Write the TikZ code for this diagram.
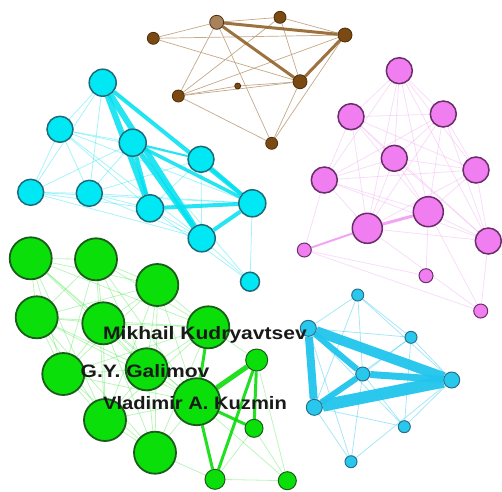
\documentclass[tikz,border=0pt]{standalone}
\usepackage{fontspec}
\newfontfamily\labfont{Liberation Sans}
\usetikzlibrary{backgrounds}
\definecolor{brfill}{HTML}{7A4A12}
\definecolor{brline}{HTML}{4E2E0A}
\definecolor{brlight}{HTML}{A8825A}
\definecolor{bredge}{HTML}{8B5A1E}
\definecolor{brthin}{HTML}{C4A888}
\definecolor{cyfill}{HTML}{00E8F4}
\definecolor{cyline}{HTML}{1E6A78}
\definecolor{cyedge}{HTML}{00E0F0}
\definecolor{pkfill}{HTML}{F07EF0}
\definecolor{pkline}{HTML}{6A2C6A}
\definecolor{pkedge}{HTML}{F0A8F0}
\definecolor{gnfill}{HTML}{0ADF0A}
\definecolor{gnline}{HTML}{1A5C1A}
\definecolor{gnedge}{HTML}{0ADC0A}
\definecolor{blfill}{HTML}{28C8EC}
\definecolor{blline}{HTML}{2A6E8C}
\definecolor{bledge}{HTML}{20C4EC}
\tikzset{
  vtx/.style={circle,inner sep=0pt,line width=1.5pt},
  brn/.style={vtx,fill=brfill,draw=brline,line width=0.8pt},
  cyn/.style={vtx,fill=cyfill,draw=cyline},
  pkn/.style={vtx,fill=pkfill,draw=pkline},
  gnn/.style={vtx,fill=gnfill,draw=gnline,line width=1.8pt},
  bln/.style={vtx,fill=blfill,draw=blline,line width=1pt},
  brthinE/.style={draw=brthin,line width=0.7pt},
  brthickE/.style={draw=bredge,line width=3pt,opacity=0.85},
  cythinE/.style={draw=cyedge,line width=0.8pt,opacity=0.35},
  cythickE/.style={draw=cyedge,line width=#1,opacity=0.85},
  pkthinE/.style={draw=pkedge,line width=0.8pt,opacity=0.4},
  pkthickE/.style={draw=pkfill,line width=#1,opacity=0.7},
  gnthinE/.style={draw=gnedge,line width=0.8pt,opacity=0.28},
  gnthickE/.style={draw=gnedge,line width=#1,opacity=0.9},
  blthinE/.style={draw=bledge,line width=0.8pt,opacity=0.4},
  blthickE/.style={draw=bledge,line width=#1,opacity=0.95},
  lab/.style={inner sep=0pt,text=black!90,font=\labfont\bfseries\fontsize{18}{20}\selectfont}
}
\begin{document}
\begin{tikzpicture}[x=1pt,y=-1pt]
\useasboundingbox (0,0) rectangle (502,491);
% brown cluster
\node[brn,fill=brlight,minimum size=14pt] (b1) at (216.7,22.3) {};
\node[brn,minimum size=12pt] (b2) at (280,17.3) {};
\node[brn,minimum size=14pt] (b3) at (345,35) {};
\node[brn,minimum size=12pt] (b4) at (153.3,38.3) {};
\node[brn,minimum size=14pt] (b5) at (300,81.7) {};
\node[brn,minimum size=6pt] (b6) at (237.7,86) {};
\node[brn,minimum size=12pt] (b7) at (178.3,96) {};
\node[brn,minimum size=12pt] (b8) at (271.7,143.3) {};
% cyan cluster
\node[cyn,minimum size=27pt] (c1) at (102.7,82.7) {};
\node[cyn,minimum size=26pt] (c2) at (60,129.3) {};
\node[cyn,minimum size=27pt] (c3) at (132.7,142.7) {};
\node[cyn,minimum size=26pt] (c4) at (201,159.3) {};
\node[cyn,minimum size=26pt] (c5) at (30.7,192.3) {};
\node[cyn,minimum size=26pt] (c6) at (89.3,193.3) {};
\node[cyn,minimum size=27pt] (c7) at (150,208.3) {};
\node[cyn,minimum size=27pt] (c8) at (252.3,203.3) {};
\node[cyn,minimum size=27pt] (c9) at (201.7,238.3) {};
\node[cyn,minimum size=19pt] (c10) at (250,281.7) {};
% pink cluster
\node[pkn,minimum size=26pt] (p1) at (399.3,70.7) {};
\node[pkn,minimum size=26pt] (p2) at (351,116.7) {};
\node[pkn,minimum size=26pt] (p3) at (443.3,114) {};
\node[pkn,minimum size=26pt] (p4) at (394.3,158.3) {};
\node[pkn,minimum size=26pt] (p5) at (324.3,180) {};
\node[pkn,minimum size=26pt] (p6) at (476,170) {};
\node[pkn,minimum size=30pt] (p7) at (428.3,211.7) {};
\node[pkn,minimum size=30pt] (p8) at (367.3,228.3) {};
\node[pkn,minimum size=26pt] (p9) at (488.3,241) {};
\node[pkn,minimum size=14pt,line width=1pt] (p10) at (304.3,250) {};
\node[pkn,minimum size=14pt,line width=1pt] (p11) at (426,275.7) {};
\node[pkn,minimum size=14pt,line width=1pt] (p12) at (480.7,311) {};
% green cluster
\node[gnn,minimum size=42pt] (g1) at (30.7,258.3) {};
\node[gnn,minimum size=42pt] (g2) at (96,259.3) {};
\node[gnn,minimum size=42pt] (g3) at (157.3,285) {};
\node[gnn,minimum size=42pt] (g4) at (36.7,317.3) {};
\node[gnn,minimum size=42pt] (g5) at (103.3,323.3) {};
\node[gnn,minimum size=42pt] (g6) at (208.3,327.3) {};
\node[gnn,minimum size=42pt] (g7) at (63.3,374) {};
\node[gnn,minimum size=42pt] (g8) at (146.7,369.3) {};
\node[gnn,minimum size=22pt,line width=1pt] (g9) at (256.7,360) {};
\node[gnn,minimum size=47pt] (g10) at (196.7,401.7) {};
\node[gnn,minimum size=42pt] (g11) at (105,420) {};
\node[gnn,minimum size=18pt,line width=1pt] (g12) at (254,428.3) {};
\node[gnn,minimum size=42pt] (g13) at (155,452.7) {};
\node[gnn,minimum size=20pt,line width=1pt] (g14) at (215,479.3) {};
\node[gnn,minimum size=18pt,line width=1pt] (g15) at (287.3,480.7) {};
% blue cluster
\node[bln,minimum size=12pt] (d1) at (357.7,295) {};
\node[bln,minimum size=16pt] (d2) at (308.3,328.3) {};
\node[bln,minimum size=12pt] (d3) at (411,337.3) {};
\node[bln,minimum size=14pt] (d4) at (362.7,374) {};
\node[bln,minimum size=16pt] (d5) at (451.7,380) {};
\node[bln,minimum size=16pt] (d6) at (314.3,407.3) {};
\node[bln,minimum size=12pt] (d7) at (404.3,426.7) {};
\node[bln,minimum size=12pt] (d8) at (351,461.7) {};
% labels
\node[lab] (l1) at (205,334.5) {\scalebox{1.17}[1]{Mikhail Kudryavtsev}};
\node[lab] (l2) at (145,371) {\scalebox{1.17}[1]{G.Y. Galimov}};
\node[lab] (l3) at (195,403.5) {\scalebox{1.12}[1]{Vladimir A. Kuzmin}};
\begin{scope}[on background layer]
% brown edges
\foreach \a/\b in {b1/b2,b2/b3,b4/b1,b4/b3,b4/b5,b1/b7,b1/b8,b2/b7,b2/b5,b3/b7,b3/b8,b5/b8,b7/b8,b7/b6,b6/b5,b7/b5}
  \draw[brthinE] (\a) -- (\b);
\foreach \a/\b in {b1/b3,b1/b5,b5/b3}
  \draw[brthickE] (\a) -- (\b);
% cyan edges
\foreach \a/\b in {c1/c2,c1/c5,c1/c6,c1/c4,c2/c3,c2/c5,c2/c6,c2/c7,c2/c9,c2/c8,c3/c5,c3/c6,c5/c6,c5/c7,c5/c9,c6/c7,c6/c9,c6/c8,c4/c7,c4/c9,c7/c9,c10/c9,c10/c8,c10/c7,c10/c3,c5/c8,c2/c4,c6/c4}
  \draw[cythinE] (\a) -- (\b);
\draw[cythickE=6pt] (c1) -- (c7);
\draw[cythickE=6pt] (c1) -- (c9);
\draw[cythickE=4pt] (c1) -- (c8);
\draw[cythickE=4pt] (c3) -- (c7);
\draw[cythickE=5pt] (c3) -- (c9);
\draw[cythickE=3.5pt] (c3) -- (c8);
\draw[cythickE=2pt] (c3) -- (c4);
\draw[cythickE=3.5pt] (c4) -- (c8);
\draw[cythickE=4pt] (c7) -- (c8);
\draw[cythickE=4pt] (c9) -- (c8);
% pink edges
\foreach \a/\b in {p1/p2,p1/p3,p1/p4,p1/p5,p1/p6,p1/p7,p1/p8,p1/p9,p2/p3,p2/p4,p2/p5,p2/p6,p2/p7,p2/p8,p2/p9,p3/p4,p3/p5,p3/p6,p3/p7,p3/p8,p3/p9,p4/p5,p4/p6,p4/p7,p4/p8,p4/p9,p5/p6,p5/p7,p5/p8,p5/p9,p6/p7,p6/p8,p6/p9,p7/p9,p8/p9,p10/p11,p10/p12,p8/p12,p7/p11,p7/p12,p9/p12,p5/p10}
  \draw[pkthinE] (\a) -- (\b);
\draw[pkthickE=3pt] (p8) -- (p7);
\draw[pkthickE=2pt] (p10) -- (p8);
% green edges
\foreach \a/\b in {g1/g2,g1/g3,g1/g4,g1/g5,g1/g6,g1/g7,g1/g8,g1/g10,g1/g11,g2/g3,g2/g4,g2/g5,g2/g6,g2/g7,g2/g8,g2/g10,g2/g11,g3/g4,g3/g5,g3/g6,g3/g7,g3/g8,g3/g10,g3/g11,g3/g13,g4/g5,g4/g6,g4/g7,g4/g8,g4/g10,g4/g11,g4/g13,g5/g6,g5/g7,g5/g8,g5/g10,g5/g11,g5/g13,g6/g7,g6/g8,g6/g11,g6/g13,g7/g8,g7/g10,g7/g11,g7/g13,g8/g10,g8/g11,g8/g13,g10/g11,g10/g13,g11/g13,g14/g15,g9/g15,g12/g15,g10/g15,g12/g14,g6/g9,g13/g14}
  \draw[gnthinE] (\a) -- (\b);
\draw[gnthickE=5pt] (g10) -- (g9);
\draw[gnthickE=3pt] (g9) -- (g14);
\draw[gnthickE=3pt] (g9) -- (g12);
\draw[gnthickE=3pt] (g10) -- (g12);
\draw[gnthickE=3pt] (g6) -- (g10);
\draw[gnthickE=3pt] (g10) -- (g14);
% blue edges
\foreach \a/\b in {d1/d2,d1/d3,d1/d4,d1/d5,d2/d3,d3/d5,d3/d4,d3/d6,d6/d7,d6/d8,d7/d5,d8/d5,d8/d4,d2/d8,d2/d7,d4/d7,d3/d7,d1/d6}
  \draw[blthinE] (\a) -- (\b);
\draw[blthickE=10pt] (d2) -- (d5);
\draw[blthickE=12pt] (d6) -- (d5);
\draw[blthickE=8pt] (d2) -- (d6);
\draw[blthickE=6pt] (d2) -- (d4);
\draw[blthickE=7pt] (d4) -- (d5);
\draw[blthickE=6pt] (d6) -- (d4);
\end{scope}
\end{tikzpicture}
\end{document}
